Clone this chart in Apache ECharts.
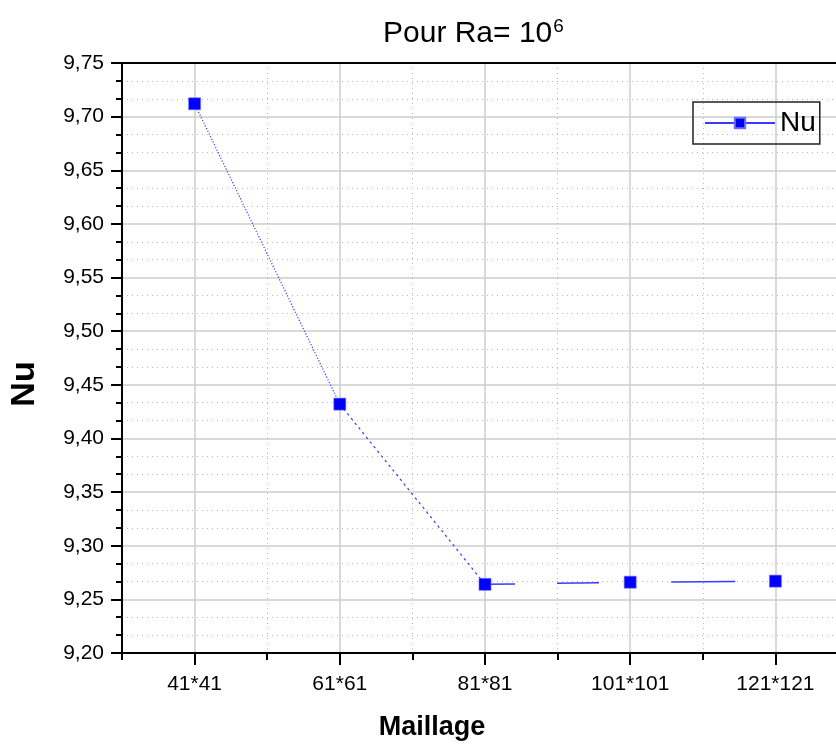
<!DOCTYPE html>
<html>
<head>
<meta charset="utf-8">
<title>Nu - Maillage</title>
<script src="https://cdn.jsdelivr.net/npm/echarts@6/dist/echarts.min.js"></script>
<style>
  html, body { margin: 0; padding: 0; background: #fff; overflow: hidden; }
  #chart { width: 860px; height: 747px; }
</style>
</head>
<body>
<div id="chart"></div>
<script>
// Mesh sizes and the mean Nusselt number obtained on each
const categories = ['41*41', '61*61', '81*81', '101*101', '121*121'];
const nuValues = [9.712, 9.432, 9.264, 9.266, 9.267];

// Axis ranges
const yMin = 9.20, yMax = 9.75, yStep = 0.05;

const FONT = "'Liberation Sans', Arial, sans-serif";
const BLUE = '#0000ff';
const LINE_BLUE = '#3a3aff';

// Connecting segments, each with its own stroke pattern
const segmentStyles = [
  { type: [1.2, 1.8], width: 1.2 },
  { type: [2.5, 3.5], width: 1.2 },
  { type: [30, 42, 42, 300], width: 1.5 },
  { type: [0, 41, 64, 300], width: 1.5 }
];

const points = nuValues.map((v, i) => [i, v]);
const majorX = categories.map((c, i) => i);
const minorX = [-0.5].concat(categories.map((c, i) => i + 0.5));

const segmentSeries = segmentStyles.map((st, i) => ({
  type: 'line',
  xAxisIndex: 0,
  data: [points[i], points[i + 1]],
  symbol: 'none',
  silent: true,
  z: 2,
  lineStyle: { color: LINE_BLUE, width: st.width, type: st.type }
}));

const chart = echarts.init(document.getElementById('chart'), null, { renderer: 'canvas' });

chart.setOption({
  animation: false,
  backgroundColor: '#fff',
  title: {
    text: 'Pour Ra= 10{sup|6}',
    left: 378,
    top: 12,
    textStyle: {
      fontFamily: FONT,
      fontSize: 30,
      fontWeight: 'normal',
      color: '#000',
      rich: {
        sup: { fontFamily: FONT, fontSize: 19, color: '#000', verticalAlign: 'top', padding: [0, 0, 14, 1] }
      }
    }
  },
  legend: {
    data: ['Nu'],
    left: 693,
    top: 102,
    orient: 'vertical',
    itemWidth: 70,
    itemHeight: 13,
    padding: [7, 4, 7, 11],
    borderColor: '#222',
    borderWidth: 1.5,
    borderRadius: 0,
    textStyle: { fontFamily: FONT, fontSize: 28, color: '#000' },
    lineStyle: { color: LINE_BLUE, width: 2, type: 'solid', opacity: 1 },
    itemStyle: { color: BLUE }
  },
  grid: {
    left: 120,
    top: 63,
    width: 728,
    height: 590,
    show: true,
    borderColor: '#000',
    borderWidth: 2,
    backgroundColor: 'transparent'
  },
  xAxis: [
    {
      type: 'value',
      min: -0.5,
      max: 4.5,
      position: 'bottom',
      name: 'Maillage',
      nameLocation: 'middle',
      nameGap: 61,
      nameTextStyle: { fontFamily: FONT, fontSize: 27, fontWeight: 'bold', color: '#000', padding: [0, 106, 0, 0] },
      axisLine: { show: true, onZero: false, lineStyle: { color: '#000', width: 2 } },
      axisTick: { show: true, customValues: majorX, length: 12, lineStyle: { color: '#000', width: 2 } },
      axisLabel: {
        customValues: majorX,
        margin: 21,
        fontFamily: FONT,
        fontSize: 21,
        color: '#000',
        formatter: v => categories[Math.round(v)] || ''
      },
      splitLine: { show: true, lineStyle: { color: '#cccccc', width: 1.5 } }
    },
    {
      type: 'value',
      min: -0.5,
      max: 4.5,
      position: 'bottom',
      axisLine: { show: false, onZero: false },
      axisTick: { show: true, customValues: minorX, length: 7, lineStyle: { color: '#000', width: 2 } },
      axisLabel: { show: false },
      splitLine: { show: true, lineStyle: { color: '#b8b8b8', width: 1, type: [1, 4] } }
    },
    {
      // frame line along the top of the plot
      type: 'value',
      min: -0.5,
      max: 4.5,
      position: 'top',
      axisLine: { show: true, onZero: false, lineStyle: { color: '#000', width: 2 } },
      axisTick: { show: false },
      axisLabel: { show: false },
      splitLine: { show: false }
    }
  ],
  yAxis: {
    type: 'value',
    min: yMin,
    max: yMax,
    interval: yStep,
    name: 'Nu',
    nameLocation: 'middle',
    nameGap: 80,
    nameTextStyle: { fontFamily: FONT, fontSize: 34, fontWeight: 'bold', color: '#000', padding: [0, 52, 0, 0] },
    axisLine: { show: true, onZero: false, lineStyle: { color: '#000', width: 2 } },
    axisTick: { show: true, length: 11, lineStyle: { color: '#000', width: 2 } },
    minorTick: { show: true, splitNumber: 3, length: 6, lineStyle: { color: '#000', width: 2 } },
    axisLabel: {
      margin: 18,
      fontFamily: FONT,
      fontSize: 21,
      color: '#000',
      formatter: v => v.toFixed(2).replace('.', ',')
    },
    splitLine: { show: true, showMinLine: false, showMaxLine: false, lineStyle: { color: '#cccccc', width: 1.5 } },
    minorSplitLine: { show: true, lineStyle: { color: '#b8b8b8', width: 1, type: [1, 4] } }
  },
  series: segmentSeries.concat([{
    name: 'Nu',
    type: 'line',
    xAxisIndex: 0,
    data: points,
    symbol: 'rect',
    symbolSize: 12,
    z: 5,
    itemStyle: { color: BLUE, borderColor: '#6f6fff', borderWidth: 0.6 },
    lineStyle: { opacity: 0 }
  }])
});
</script>
</body>
</html>
